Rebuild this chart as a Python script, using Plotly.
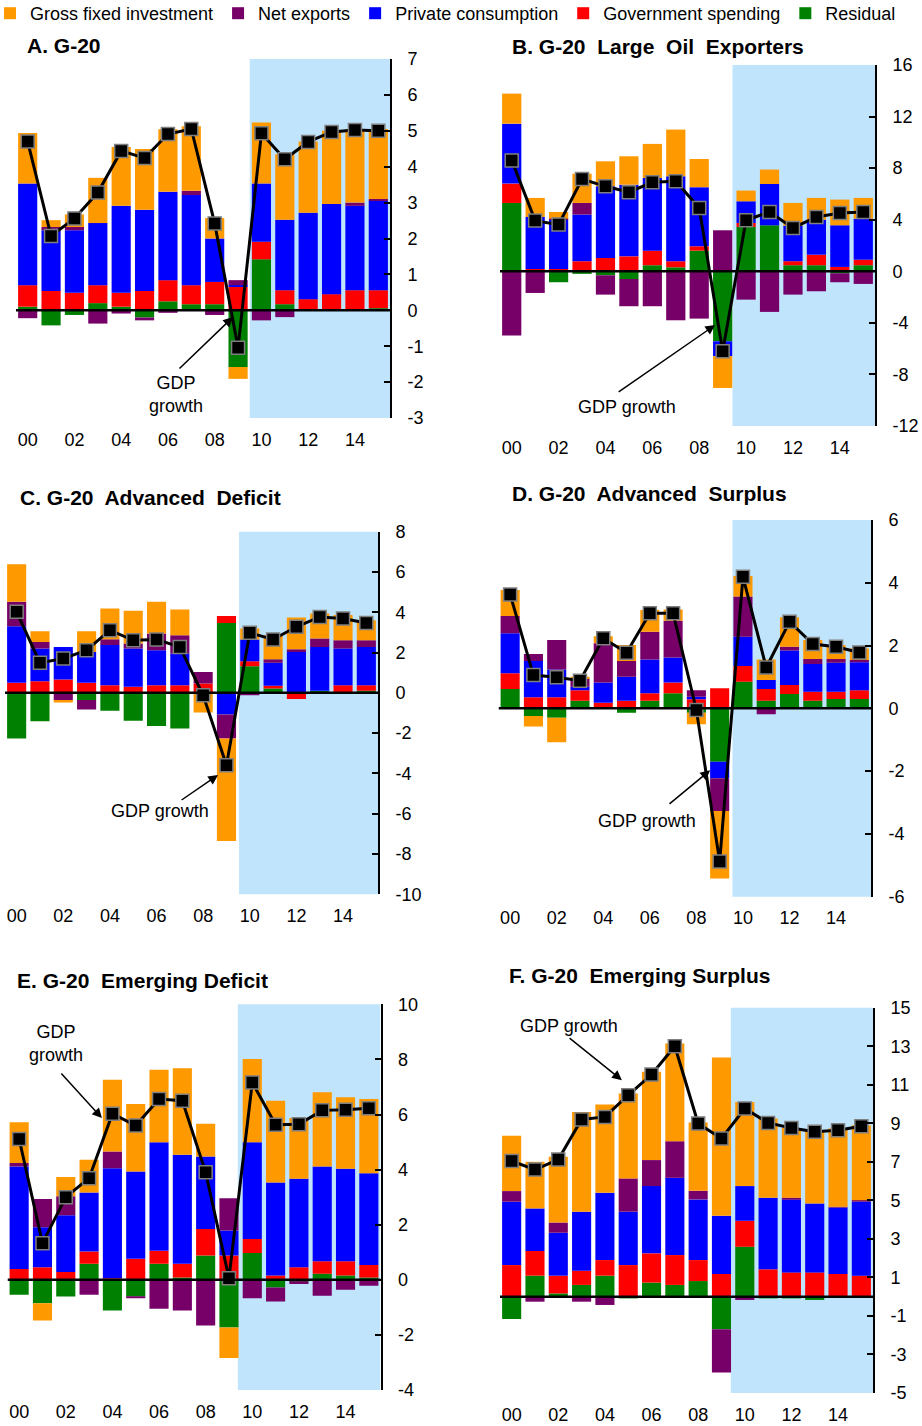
import plotly.graph_objects as go

# ---- data: contributions to real GDP growth (percentage points), 2000-2015 ----
years = list(range(2000, 2016))
tick_positions = [0, 2, 4, 6, 8, 10, 12, 14]
tick_labels = ["00", "02", "04", "06", "08", "10", "12", "14"]

series_names = ["Residual", "Government spending", "Private consumption",
                "Net exports", "Gross fixed investment"]
series_colors = ["#008000", "#FF0000", "#0000FF", "#770068", "#FF9900"]

# A. G-20
g20_residual = [0.10, -0.42, -0.13, 0.20, 0.10, -0.20, 0.25, 0.17, 0.17, -1.58, 1.42, 0.17, 0.00, 0.00, 0.00, 0.06]
g20_government = [0.60, 0.54, 0.49, 0.50, 0.39, 0.54, 0.59, 0.53, 0.62, 0.65, 0.49, 0.39, 0.31, 0.45, 0.56, 0.50]
g20_private = [2.83, 1.69, 1.74, 1.73, 2.42, 2.26, 2.46, 2.51, 1.21, 0.05, 1.62, 1.96, 2.41, 2.51, 2.35, 2.49]
g20_net_exports = [-0.22, 0.09, 0.09, -0.37, -0.09, -0.08, -0.07, 0.12, -0.13, 0.14, -0.28, -0.19, 0.00, 0.00, 0.09, 0.05]
g20_investment = [1.41, 0.19, 0.35, 1.26, 1.64, 1.69, 1.74, 1.80, 0.57, -0.33, 1.70, 1.83, 1.98, 2.04, 2.05, 1.95]
g20_gdp = [4.70, 2.07, 2.56, 3.28, 4.44, 4.24, 4.91, 5.05, 2.42, -1.04, 4.93, 4.21, 4.69, 4.97, 5.02, 5.00]

# B. G-20 Large Oil Exporters
oil_residual = [5.30, 0.00, -0.85, -0.20, -0.31, -0.60, 0.47, 0.31, 1.60, -5.43, 3.44, 3.57, 0.47, 0.47, -0.15, 0.47]
oil_government = [1.50, 0.18, 0.18, 0.78, 1.03, 1.16, 1.13, 0.47, 0.34, 0.00, 0.31, 0.00, 0.31, 0.82, 0.34, 0.43]
oil_private = [4.65, 4.03, 3.82, 3.62, 5.57, 5.56, 5.64, 6.59, 4.58, -1.16, 1.68, 3.20, 2.76, 2.71, 3.23, 3.18]
oil_net_exports = [-4.99, -1.68, 0.08, 0.90, -1.50, -2.11, -2.71, -3.80, -3.67, 3.18, -2.20, -3.15, -1.81, -1.55, -0.70, -0.98]
oil_investment = [2.33, 1.48, 0.52, 2.27, 1.93, 2.20, 2.64, 3.62, 2.19, -2.46, 0.83, 1.12, 1.76, 1.69, 1.99, 1.61]
oil_gdp = [8.60, 3.93, 3.62, 7.16, 6.59, 6.13, 6.90, 6.98, 4.91, -6.20, 3.96, 4.60, 3.36, 4.21, 4.52, 4.60]

# C. G-20 Advanced Deficit
adv_def_residual = [-2.27, -1.41, 0.00, -0.36, -0.89, -1.39, -1.65, -1.77, 0.00, 3.47, 1.32, 0.22, 0.00, 0.10, 0.00, 0.10]
adv_def_government = [0.50, 0.58, 0.66, 0.50, 0.38, 0.30, 0.38, 0.38, 0.46, 0.35, 0.25, 0.13, -0.31, 0.00, 0.38, 0.28]
adv_def_private = [2.81, 1.62, 1.62, 1.53, 1.99, 1.90, 1.74, 1.57, 0.00, -1.08, 1.08, 1.14, 2.03, 2.18, 1.82, 1.90]
adv_def_net_exports = [1.21, 0.33, -0.36, -0.47, 0.29, 0.25, 0.83, 0.91, 0.58, -1.19, -0.12, 0.18, 0.14, 0.42, 0.41, 0.33]
adv_def_investment = [1.87, 0.53, -0.12, 1.03, 1.53, 1.62, 1.57, 1.28, -0.98, -5.08, 0.54, 1.19, 1.57, 1.24, 1.25, 1.00]
adv_def_gdp = [4.02, 1.49, 1.70, 2.12, 3.11, 2.61, 2.65, 2.28, -0.12, -3.59, 2.98, 2.65, 3.28, 3.77, 3.69, 3.47]

# D. G-20 Advanced Surplus
adv_sur_residual = [0.62, -0.24, -0.30, 0.24, 0.00, -0.14, 0.24, 0.48, -0.14, -1.70, 0.85, 0.24, 0.46, 0.24, 0.30, 0.30]
adv_sur_government = [0.50, 0.35, 0.35, 0.34, 0.18, 0.24, 0.24, 0.34, 0.29, 0.64, 0.50, 0.38, 0.28, 0.29, 0.23, 0.28]
adv_sur_private = [1.27, 1.16, 0.89, 0.11, 0.64, 0.77, 1.08, 0.80, 0.08, -0.53, 0.93, 0.28, 1.10, 0.88, 0.92, 0.89]
adv_sur_net_exports = [0.55, 0.22, 0.94, 0.27, 1.25, 0.50, 0.88, 1.17, 0.21, -1.04, 1.28, -0.19, 0.12, 0.16, 0.12, 0.07]
adv_sur_investment = [0.83, -0.34, -0.78, 0.05, 0.23, 0.51, 0.69, 0.36, -0.37, -2.15, 0.66, 0.66, 0.94, 0.61, 0.45, 0.37]
adv_sur_gdp = [3.63, 1.06, 0.99, 0.88, 2.23, 1.77, 3.03, 3.03, -0.05, -4.88, 4.19, 1.30, 2.76, 2.05, 1.96, 1.78]

# E. G-20 Emerging Deficit
em_def_residual = [-0.54, -0.85, -0.61, 0.58, -1.11, -0.61, 0.58, 0.08, 0.88, -1.73, 0.97, -0.28, -0.08, 0.22, 0.16, 0.08]
em_def_government = [0.39, 0.46, 0.28, 0.45, 0.06, 0.76, 0.47, 0.50, 0.96, 0.88, 0.51, 0.16, 0.46, 0.45, 0.51, 0.46]
em_def_private = [3.72, 1.45, 2.06, 2.14, 3.99, 3.17, 3.94, 3.96, 2.64, 0.91, 3.51, 3.37, 3.21, 3.44, 3.36, 3.33]
em_def_net_exports = [0.13, 1.02, 0.69, -0.54, 0.61, -0.06, -1.05, -1.11, -1.66, 1.17, -0.67, -0.51, -0.07, -0.58, -0.36, -0.22]
em_def_investment = [1.48, -0.63, 0.70, 1.19, 2.60, 2.45, 2.63, 3.14, 1.18, -1.11, 3.02, 2.97, 2.20, 2.70, 2.60, 2.69]
em_def_gdp = [5.11, 1.33, 3.00, 3.69, 6.03, 5.60, 6.56, 6.50, 3.90, 0.06, 7.16, 5.63, 5.65, 6.15, 6.17, 6.23]

# F. G-20 Emerging Surplus
em_sur_residual = [-1.16, 1.09, 0.17, 0.61, 1.09, -0.09, 0.73, 0.61, 0.81, -1.69, 2.59, -0.09, -0.09, -0.17, 0.00, 0.00]
em_sur_government = [1.64, 1.28, 0.92, 0.74, 0.81, 1.64, 1.52, 1.55, 1.09, 1.18, 1.35, 1.42, 1.26, 1.26, 1.18, 1.09]
em_sur_private = [3.29, 2.21, 2.23, 3.06, 3.49, 2.77, 3.49, 4.01, 3.15, 3.02, 1.80, 3.71, 3.79, 3.58, 3.44, 3.84]
em_sur_net_exports = [0.55, -0.26, 0.53, -0.26, -0.43, 1.73, 1.35, 1.90, 0.45, -2.25, -0.17, 0.00, 0.08, 0.00, 0.05, 0.08]
em_sur_investment = [2.87, 2.42, 3.41, 5.18, 4.58, 4.40, 4.58, 5.07, 3.54, 8.21, 4.37, 4.12, 3.63, 3.80, 4.06, 3.89]
em_sur_gdp = [7.04, 6.60, 7.12, 9.20, 9.33, 10.46, 11.53, 13.00, 8.99, 8.21, 9.77, 9.02, 8.76, 8.56, 8.64, 8.85]

# ---- panel layout (pixel boxes on a 922 x 1426 page) ----
W, H = 922, 1426
panels = [
    dict(title="A. G-20", title_xy=(25, 46),
         series=[g20_residual, g20_government, g20_private, g20_net_exports, g20_investment], gdp=g20_gdp,
         box=(16, 390, 59, 418), yrange=(-3, 7), dtick=1, shade=(9.5, 15.5),
         arrow=((8.78, -0.19), (6.43, -1.66)), label=("GDP<br>growth", 6.35, -2.34)),
    dict(title="B. G-20  Large  Oil  Exporters", title_xy=(510, 47),
         series=[oil_residual, oil_government, oil_private, oil_net_exports, oil_investment], gdp=oil_gdp,
         box=(500, 875, 65, 426), yrange=(-12, 16), dtick=4, shade=(9.42, 15.5),
         arrow=((8.68, -4.17), (4.5, -9.44)), label=("GDP growth", 4.93, -10.5)),
    dict(title="C. G-20  Advanced  Deficit", title_xy=(18, 497),
         series=[adv_def_residual, adv_def_government, adv_def_private, adv_def_net_exports, adv_def_investment], gdp=adv_def_gdp,
         box=(5, 378, 531.7, 894.3), yrange=(-10, 8), dtick=2, shade=(9.54, 15.5),
         arrow=((8.64, -4.08), (7.01, -5.37)), label=("GDP growth", 6.15, -5.87)),
    dict(title="D. G-20  Advanced  Surplus", title_xy=(510, 493),
         series=[adv_sur_residual, adv_sur_government, adv_sur_private, adv_sur_net_exports, adv_sur_investment], gdp=adv_sur_gdp,
         box=(498.5, 871, 520, 896.7), yrange=(-6, 6), dtick=2, shade=(9.55, 15.5),
         arrow=((8.59, -1.97), (6.78, -3.08)), label=("GDP growth", 5.88, -3.59)),
    dict(title="E. G-20  Emerging Deficit", title_xy=(15, 980),
         series=[em_def_residual, em_def_government, em_def_private, em_def_net_exports, em_def_investment], gdp=em_def_gdp,
         box=(7.5, 380.5, 1004.3, 1390), yrange=(-4, 10), dtick=2, shade=(9.38, 15.5),
         arrow=((3.55, 5.87), (1.75, 7.54)), label=("GDP<br>growth", 1.58, 8.59)),
    dict(title="F. G-20  Emerging Surplus", title_xy=(507, 975),
         series=[em_sur_residual, em_sur_government, em_sur_private, em_sur_net_exports, em_sur_investment], gdp=em_sur_gdp,
         box=(500, 873, 1007.7, 1393), yrange=(-5, 15), dtick=2, shade=(9.4, 15.5),
         arrow=((4.73, 11.24), (2.42, 13.48)), label=("GDP growth", 2.46, 14.05)),
]

FONT = "Arial, Liberation Sans, sans-serif"
x_idx = list(range(len(years)))

fig = go.Figure()
layout = dict(
    width=W, height=H, margin=dict(l=0, r=0, t=0, b=0, autoexpand=False),
    paper_bgcolor="white", plot_bgcolor="rgba(0,0,0,0)",
    barmode="relative", bargap=0.18,
    font=dict(family=FONT, size=18, color="black"),
    showlegend=True,
    legend=dict(orientation="h", x=-10 / W, y=1 + 5 / H, xanchor="left", yanchor="top",
                traceorder="reversed", font=dict(size=18), itemwidth=30,
                bgcolor="rgba(0,0,0,0)", tracegroupgap=0),
)
shapes, annotations = [], []

for i, p in enumerate(panels):
    n = "" if i == 0 else str(i + 1)
    xa, ya = "x" + n, "y" + n
    x0, x1, ytop, ybot = p["box"]
    lo, hi = p["yrange"]
    yticks = list(range(lo, hi + 1, p["dtick"]))

    for name, color, vals in zip(series_names, series_colors, p["series"]):
        fig.add_trace(go.Bar(x=x_idx, y=vals, name=name, marker=dict(color=color, line=dict(width=0)),
                             xaxis=xa, yaxis=ya, showlegend=(i == 0), hoverinfo="skip"))
    fig.add_trace(go.Scatter(x=x_idx, y=p["gdp"], mode="lines+markers", name="GDP growth",
                             line=dict(color="black", width=3),
                             marker=dict(symbol="square", size=13, color="black",
                                         line=dict(color="#7f7f7f", width=1.5)),
                             xaxis=xa, yaxis=ya, showlegend=False, hoverinfo="skip"))

    layout["xaxis" + n] = dict(domain=[x0 / W, x1 / W], anchor=ya, range=[-0.5, 15.5],
                               tickvals=tick_positions, ticktext=tick_labels,
                               showline=False, showgrid=False, zeroline=False,
                               ticks="outside", ticklen=5, tickcolor="rgba(0,0,0,0)",
                               tickfont=dict(size=18), fixedrange=True)
    layout["yaxis" + n] = dict(domain=[1 - ybot / H, 1 - ytop / H], anchor=xa, side="right",
                               range=[lo, hi], tickvals=yticks, ticktext=[str(v) for v in yticks],
                               showline=True, linecolor="black", linewidth=2,
                               ticks="inside", ticklen=6, tickwidth=2, tickcolor="black",
                               showgrid=False, zeroline=False, tickfont=dict(size=18),
                               ticklabelstandoff=12, fixedrange=True)

    # forecast period shading
    shapes.append(dict(type="rect", xref=xa, yref=ya + " domain", x0=p["shade"][0], x1=p["shade"][1],
                       y0=0, y1=1, fillcolor="#C0E4FB", line=dict(width=0), layer="below"))
    # zero line
    shapes.append(dict(type="line", xref=xa, yref=ya, x0=-0.5, x1=15.5, y0=0, y1=0,
                       line=dict(color="black", width=2.5), layer="above"))

    # panel title
    tx, ty = p["title_xy"]
    annotations.append(dict(text="<b>" + p["title"].replace("  ", "\u00a0 ") + "</b>",
                            xref="paper", yref="paper", x=tx / W, y=1 - ty / H,
                            xanchor="left", yanchor="middle", showarrow=False,
                            font=dict(size=21, family=FONT)))
    # GDP growth callout
    (hx, hy), (tx2, ty2) = p["arrow"]
    annotations.append(dict(text="", xref=xa, yref=ya, x=hx, y=hy, axref=xa, ayref=ya, ax=tx2, ay=ty2,
                            showarrow=True, arrowhead=2, arrowsize=1.3, arrowwidth=1.5, arrowcolor="black"))
    lt, lx, ly = p["label"]
    annotations.append(dict(text=lt, xref=xa, yref=ya, x=lx, y=ly, showarrow=False,
                            xanchor="center", yanchor="middle", font=dict(size=18, family=FONT)))

layout["shapes"] = shapes
layout["annotations"] = annotations
fig.update_layout(**layout)

fig.write_html("out.html")
